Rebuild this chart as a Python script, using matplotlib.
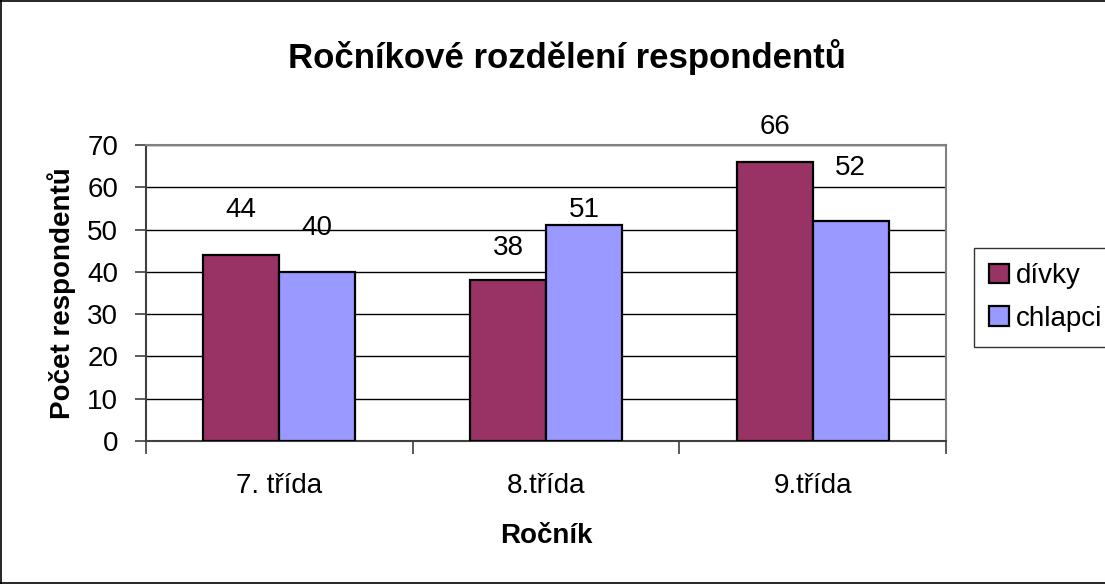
import matplotlib
matplotlib.use("Agg")
import matplotlib.pyplot as plt
from matplotlib.lines import Line2D
import numpy as np

categories = ["7. třída", "8.třída", "9.třída"]
divky = [44, 38, 66]
chlapci = [40, 51, 52]
series_names = ["dívky", "chlapci"]
title = "Ročníkové rozdělení respondentů"
xlabel = "Ročník"
ylabel = "Počet respondentů"
yticks = [0, 10, 20, 30, 40, 50, 60, 70]

# label placement offsets (data units above bar top), as in the reference
off_divky = [10.6, 7.6, 8.2]
off_chlapci = [10.4, 3.6, 12.6]

plt.rcParams['font.family'] = ['Liberation Sans', 'DejaVu Sans']

W, H = 1105, 584
FS = 20
fig = plt.figure(figsize=(W / 100, H / 100), dpi=100)
ax = fig.add_axes([146 / W, (H - 441) / H, 800 / W, 296 / H])

x = np.arange(len(categories))
w = 0.285
c1, c2 = "#993366", "#9999FF"
b1 = ax.bar(x - w / 2, divky, w, color=c1, edgecolor="black", linewidth=1.6, label=series_names[0], zorder=3)
b2 = ax.bar(x + w / 2, chlapci, w, color=c2, edgecolor="black", linewidth=1.6, label=series_names[1], zorder=3)

for xi, v, o in zip(x - w / 2, divky, off_divky):
    ax.text(xi, v + o, str(v), ha="center", va="center", fontsize=FS)
for xi, v, o in zip(x + w / 2, chlapci, off_chlapci):
    ax.text(xi, v + o, str(v), ha="center", va="center", fontsize=FS)

ax.set_xlim(-0.5, 2.5)
ax.set_ylim(0, 70)
ax.set_yticks(yticks)
ax.set_yticklabels([str(t) for t in yticks], fontsize=FS)
ax.yaxis.grid(True, color="black", linewidth=1.0, zorder=0)
ax.set_axisbelow(True)
ax.set_xticks(x)
ax.set_xticklabels(categories, fontsize=FS)
ax.tick_params(axis="x", length=0, pad=23)
ax.set_xticks([-0.5, 0.5, 1.5, 2.5], minor=True)
ax.tick_params(axis="x", which="minor", length=9, width=1.2, color="#404040")
ax.tick_params(axis="y", length=8, width=1.2, color="#404040", pad=12)
for s in ["top", "right"]:
    ax.spines[s].set_color("#808080")
    ax.spines[s].set_linewidth(1.5)
ax.spines["left"].set_color("#404040")
ax.spines["left"].set_linewidth(1.5)
ax.spines["bottom"].set_color("#404040")
ax.spines["bottom"].set_linewidth(1.5)

fig.text(567 / W, 1 - 57 / H, title, ha="center", va="center", fontsize=25, fontweight="bold")
fig.text(546 / W, 1 - 536 / H, xlabel, ha="center", va="center", fontsize=FS, fontweight="bold")
fig.text(62 / W, 1 - 293 / H, ylabel, ha="center", va="center", fontsize=FS, fontweight="bold", rotation=90)

leg = fig.legend(handles=[b1, b2], labels=series_names, loc="upper left",
                 bbox_to_anchor=(974 / W, 1 - 248 / H), fontsize=FS, frameon=True,
                 fancybox=False, edgecolor="black", handlelength=0.7, handleheight=0.7,
                 handletextpad=0.25, borderpad=0.55, labelspacing=0.6, borderaxespad=0)
leg.get_frame().set_linewidth(1.0)

# outer chart border (left, top, bottom; right side is cut off in the reference)
for xs, ys in [([0.0008, 0.0008], [0, 1]), ([0, 1], [0.9985, 0.9985]), ([0, 1], [0.0015, 0.0015])]:
    fig.add_artist(Line2D(xs, ys, transform=fig.transFigure, color="black", linewidth=1.2))

fig.savefig("out.png", dpi=100)
